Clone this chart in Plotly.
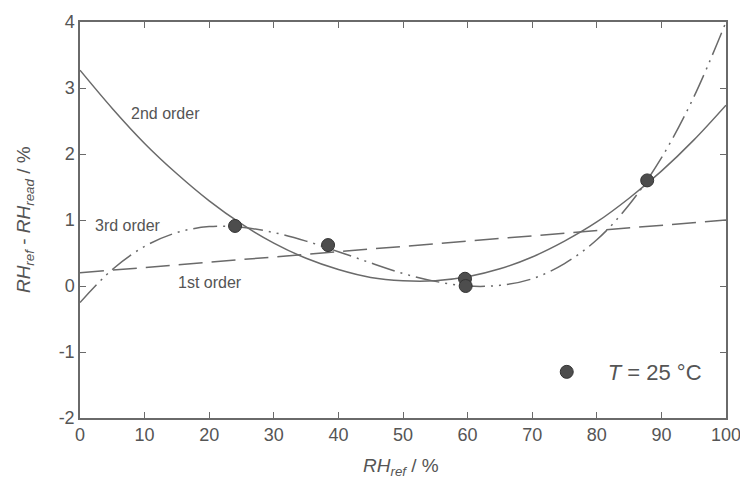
import plotly.graph_objects as go

# measured calibration points (T = 25 °C)
pts_x = [24.0, 38.4, 59.6, 59.7, 87.8]
pts_y = [0.91, 0.62, 0.11, 0.00, 1.60]

# fitted curves
fit_x = [0, 5, 10, 15, 20, 25, 30, 35, 40, 45, 50, 55, 60, 65, 70, 75, 80, 85, 90, 95, 100]
first_x = [0, 100]
first_y = [0.20, 1.00]
second_y = [3.27, 2.69, 2.16, 1.70, 1.29, 0.94, 0.65, 0.42, 0.25, 0.13, 0.08, 0.08, 0.14, 0.26,
            0.44, 0.68, 0.97, 1.33, 1.74, 2.21, 2.74]
third_y = [-0.25, 0.25, 0.60, 0.81, 0.90, 0.89, 0.81, 0.68, 0.52, 0.35, 0.19, 0.07, 0.00, 0.01,
           0.11, 0.34, 0.70, 1.23, 1.94, 2.86, 4.00]

x_ticks = [0, 10, 20, 30, 40, 50, 60, 70, 80, 90, 100]
x_labels = ["0", "10", "20", "30", "40", "50", "60", "70", "80", "90", "100"]
y_ticks = [-2, -1, 0, 1, 2, 3, 4]
y_labels = ["-2", "-1", "0", "1", "2", "3", "4"]

LINE = "#6a6a6a"
TXT = "#555555"
FONT = "Liberation Sans, Arial, sans-serif"

fig = go.Figure()
fig.add_trace(go.Scatter(x=first_x, y=first_y, mode="lines", showlegend=False,
                         line=dict(color=LINE, width=1.5, dash="24px,9px")))
fig.add_trace(go.Scatter(x=fit_x, y=second_y, mode="lines", showlegend=False,
                         line=dict(color=LINE, width=1.5, shape="spline")))
fig.add_trace(go.Scatter(x=fit_x, y=third_y, mode="lines", showlegend=False,
                         line=dict(color=LINE, width=1.5, shape="spline",
                                   dash="24px,6px,2px,6px,2px,6px")))
fig.add_trace(go.Scatter(x=pts_x, y=pts_y, mode="markers", name="<i>T</i> = 25 °C",
                         marker=dict(size=13, color="#4d4d4d",
                                     line=dict(color="#333333", width=1))))

ann = [
    dict(x=13.3, y=2.62, text="2nd order"),
    dict(x=7.4, y=0.91, text="3rd order"),
    dict(x=20.1, y=0.06, text="1st order"),
]
annotations = [dict(a, xref="x", yref="y", showarrow=False,
                    font=dict(family=FONT, size=16, color=TXT)) for a in ann]
annotations.append(dict(x=-0.085, y=0.5, xref="paper", yref="paper", showarrow=False,
                        textangle=-90, xanchor="center", yanchor="middle",
                        text="<i>RH</i><sub><i>ref</i></sub> - <i>RH</i><sub><i>read</i></sub> / %",
                        font=dict(family=FONT, size=19, color=TXT)))
annotations.append(dict(x=0.497, y=0, xref="paper", yref="paper", showarrow=False,
                        yshift=-49, yanchor="middle",
                        text="<i>RH</i><sub><i>ref</i></sub> / %",
                        font=dict(family=FONT, size=19, color=TXT)))

axis_common = dict(showgrid=False, zeroline=False, showline=True, linecolor=LINE, linewidth=1.5,
                   mirror="ticks", ticks="inside", ticklen=6, tickcolor=LINE, tickwidth=1.2,
                   automargin=False,
                   tickfont=dict(family=FONT, size=18, color=TXT))

fig.update_layout(
    width=748, height=483,
    margin=dict(l=72, r=30, t=14, b=73),
    paper_bgcolor="white", plot_bgcolor="white",
    xaxis=dict(range=[0, 100], tickvals=x_ticks, ticktext=x_labels, **axis_common),
    yaxis=dict(range=[-2, 4], tickvals=y_ticks, ticktext=y_labels, **axis_common),
    annotations=annotations,
    showlegend=True,
    legend=dict(x=0.69, y=0.116, xanchor="left", yanchor="middle", bgcolor="rgba(0,0,0,0)",
                itemwidth=72,
                font=dict(family=FONT, size=22, color=TXT)),
)

fig.write_html("out.html")
